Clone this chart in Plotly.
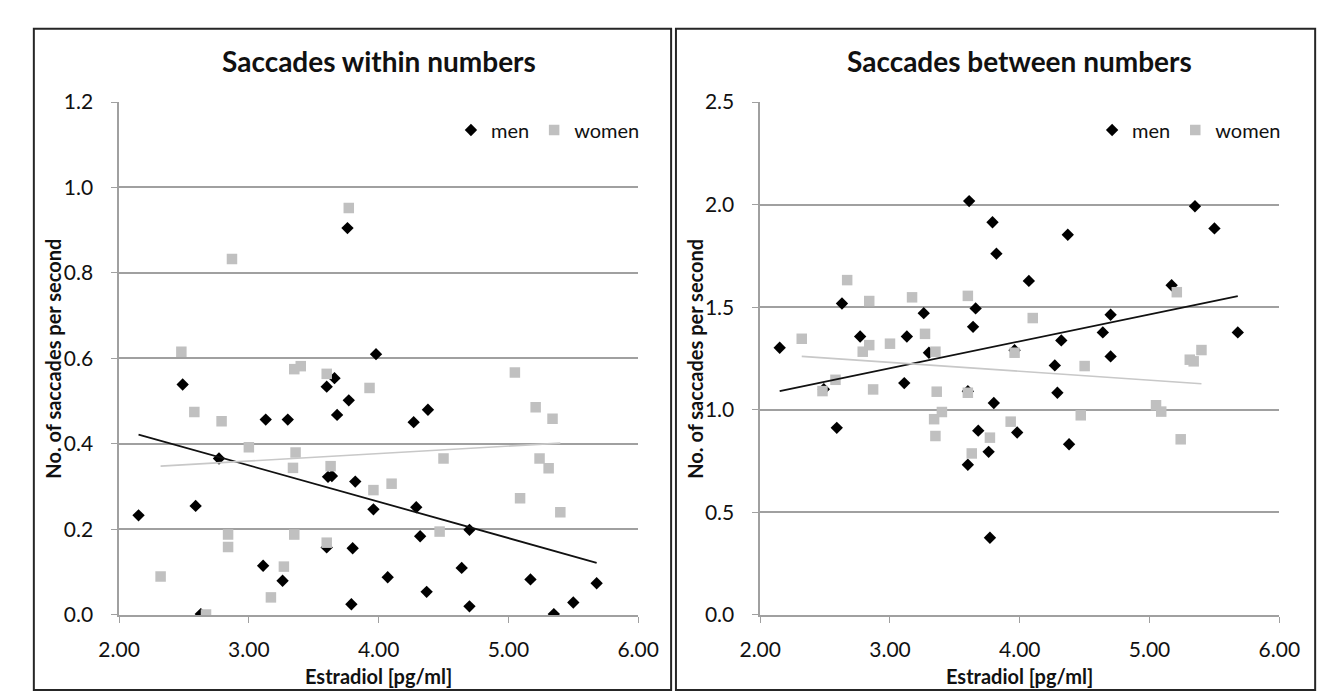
import plotly.graph_objects as go

# ---------------- data ----------------
men_estradiol = [2.15, 2.49, 2.59, 2.63, 2.77, 3.11, 3.13, 3.26, 3.30, 3.60, 3.61, 3.64,
                 3.60, 3.66, 3.68, 3.76, 3.77, 3.79, 3.80, 3.82, 3.96, 3.98, 4.07, 4.27,
                 4.29, 4.32, 4.37, 4.38, 4.64, 4.70, 4.70, 5.17, 5.35, 5.50, 5.68]
men_within = [0.233, 0.539, 0.255, 0.002, 0.366, 0.115, 0.457, 0.080, 0.457, 0.534, 0.323, 0.325,
              0.158, 0.554, 0.468, 0.905, 0.502, 0.025, 0.156, 0.312, 0.247, 0.610, 0.088, 0.451,
              0.252, 0.184, 0.054, 0.480, 0.110, 0.199, 0.020, 0.083, 0.002, 0.029, 0.074]
men_between = [1.302, 1.100, 0.912, 1.518, 1.357, 1.130, 1.357, 1.471, 1.278, 1.090, 2.017, 1.404,
               0.732, 1.494, 0.898, 0.795, 0.376, 1.914, 1.033, 1.761, 1.290, 0.889, 1.628, 1.216,
               1.083, 1.338, 1.853, 0.832, 1.377, 1.463, 1.260, 1.607, 1.992, 1.884, 1.377]

women_estradiol = [2.32, 2.48, 2.58, 2.67, 2.79, 2.84, 2.84, 2.87, 3.00, 3.17, 3.27, 3.34,
                   3.35, 3.35, 3.36, 3.40, 3.60, 3.60, 3.63, 3.77, 3.93, 3.96, 4.10, 4.47,
                   4.50, 5.05, 5.09, 5.21, 5.24, 5.31, 5.34, 5.40]
women_within = [0.090, 0.616, 0.475, 0.001, 0.453, 0.188, 0.159, 0.833, 0.392, 0.041, 0.113, 0.344,
                0.575, 0.188, 0.380, 0.582, 0.564, 0.169, 0.348, 0.952, 0.531, 0.292, 0.307, 0.195,
                0.366, 0.567, 0.273, 0.486, 0.366, 0.343, 0.459, 0.240]
women_between = [1.346, 1.091, 1.146, 1.632, 1.283, 1.530, 1.315, 1.099, 1.322, 1.548, 1.370, 0.954,
                 1.283, 0.872, 1.088, 0.989, 1.555, 1.083, 0.787, 0.864, 0.942, 1.278, 1.447, 0.973,
                 1.213, 1.022, 0.991, 1.573, 0.856, 1.244, 1.236, 1.291]

# linear trend lines (end points)
trend_men_x = [2.15, 5.68]
trend_men_within_y = [0.422, 0.122]
trend_men_between_y = [1.091, 1.554]
trend_women_x = [2.32, 5.40]
trend_women_within_y = [0.348, 0.402]
trend_women_between_y = [1.260, 1.127]

panel_titles = ["Saccades within numbers", "Saccades between numbers"]
x_title = "Estradiol [pg/ml]"
y_title = "No. of saccades per second"
x_ticks = [2, 3, 4, 5, 6]
y1_ticks = [0.0, 0.2, 0.4, 0.6, 0.8, 1.0, 1.2]
y2_ticks = [0.0, 0.5, 1.0, 1.5, 2.0, 2.5]

# ---------------- layout helpers ----------------
W, H = 1333, 696
def px(x):
    return x / W
def py(y):
    return (H - y) / H

FONT = "Lato"
TXT = "#111111"
GRID = "#a0a0a0"
MEN_C = "#000000"
WOMEN_C = "#c0c0c0"

fig = go.Figure()

def add_panel(xa, ya, legend, y_men, y_women, tm, tw):
    fig.add_trace(go.Scatter(x=men_estradiol, y=y_men, mode="markers", name="men",
                             xaxis=xa, yaxis=ya, legend=legend,
                             marker=dict(symbol="diamond", size=9.5, color=MEN_C)))
    fig.add_trace(go.Scatter(x=women_estradiol, y=y_women, mode="markers", name="women",
                             xaxis=xa, yaxis=ya, legend=legend,
                             marker=dict(symbol="square", size=10.5, color=WOMEN_C)))
    fig.add_trace(go.Scatter(x=trend_men_x, y=tm, mode="lines", showlegend=False,
                             xaxis=xa, yaxis=ya, line=dict(color="#111111", width=1.8)))
    fig.add_trace(go.Scatter(x=trend_women_x, y=tw, mode="lines", showlegend=False,
                             xaxis=xa, yaxis=ya, line=dict(color="#c8c8c8", width=1.6)))

add_panel("x", "y", "legend", men_within, women_within, trend_men_within_y, trend_women_within_y)
add_panel("x2", "y2", "legend2", men_between, women_between, trend_men_between_y, trend_women_between_y)

tickfont = dict(family=FONT, size=21, color=TXT)
common_x = dict(range=[2, 6], tickvals=x_ticks, tickformat=".2f", showgrid=False,
                zeroline=False, showline=True, linecolor=GRID, linewidth=1.5,
                ticks="outside", ticklen=6, tickcolor=GRID, tickwidth=1.2,
                tickfont=tickfont, ticklabelstandoff=9, fixedrange=True)
common_y = dict(showgrid=True, gridcolor=GRID, gridwidth=1.6, zeroline=False,
                showline=True, linecolor=GRID, linewidth=1.5,
                ticks="outside", ticklen=6, tickcolor=GRID, tickwidth=1.2,
                tickfont=tickfont, ticklabelstandoff=14, fixedrange=True)

y_dom = [py(615), py(83)]
legend_common = dict(orientation="h", xanchor="right", yanchor="middle",
                     bgcolor="rgba(0,0,0,0)", font=dict(family=FONT, size=20, color=TXT),
                     itemwidth=30, tracegroupgap=0)
fig.update_layout(
    width=W, height=H,
    margin=dict(l=0, r=0, t=0, b=0),
    paper_bgcolor="white", plot_bgcolor="white",
    font=dict(family=FONT, color=TXT),
    xaxis=dict(domain=[px(93), px(629)], anchor="y", **common_x),
    yaxis=dict(domain=y_dom, anchor="x", range=[0, 1.2], tickvals=y1_ticks,
               tickformat=".1f", **common_y),
    xaxis2=dict(domain=[px(755), px(1291)], anchor="y2", **common_x),
    yaxis2=dict(domain=y_dom, anchor="x2", range=[0, 2.5], tickvals=y2_ticks,
                tickformat=".1f", **common_y),
    legend=dict(x=px(636), y=py(112), **legend_common),
    legend2=dict(x=px(1298), y=py(112), **legend_common),
    showlegend=True,
)

annotations = []
for cx, title in [(361, panel_titles[0]), (1023, panel_titles[1])]:
    annotations.append(dict(text="<b>%s</b>" % title, x=px(cx), y=py(40), xref="paper", yref="paper",
                            showarrow=False, xanchor="center", yanchor="middle",
                            font=dict(family=FONT, size=28, color=TXT)))
    annotations.append(dict(text="<b>%s</b>" % x_title, x=px(cx), y=py(678), xref="paper", yref="paper",
                            showarrow=False, xanchor="center", yanchor="middle",
                            font=dict(family=FONT, size=20, color=TXT)))
for cx in [25, 688]:
    annotations.append(dict(text="<b>%s</b>" % y_title, x=px(cx), y=py(349), xref="paper", yref="paper",
                            showarrow=False, xanchor="center", yanchor="middle", textangle=-90,
                            font=dict(family=FONT, size=20, color=TXT)))
fig.update_layout(annotations=annotations)

# chart-area frames of the two panels
for x0, x1 in [(5, 663), (668, 1328)]:
    fig.add_shape(type="rect", xref="paper", yref="paper",
                  x0=px(x0), x1=px(x1), y0=py(693), y1=py(7),
                  line=dict(color="#262626", width=2), fillcolor="rgba(0,0,0,0)", layer="below")

fig.write_html("out.html")
